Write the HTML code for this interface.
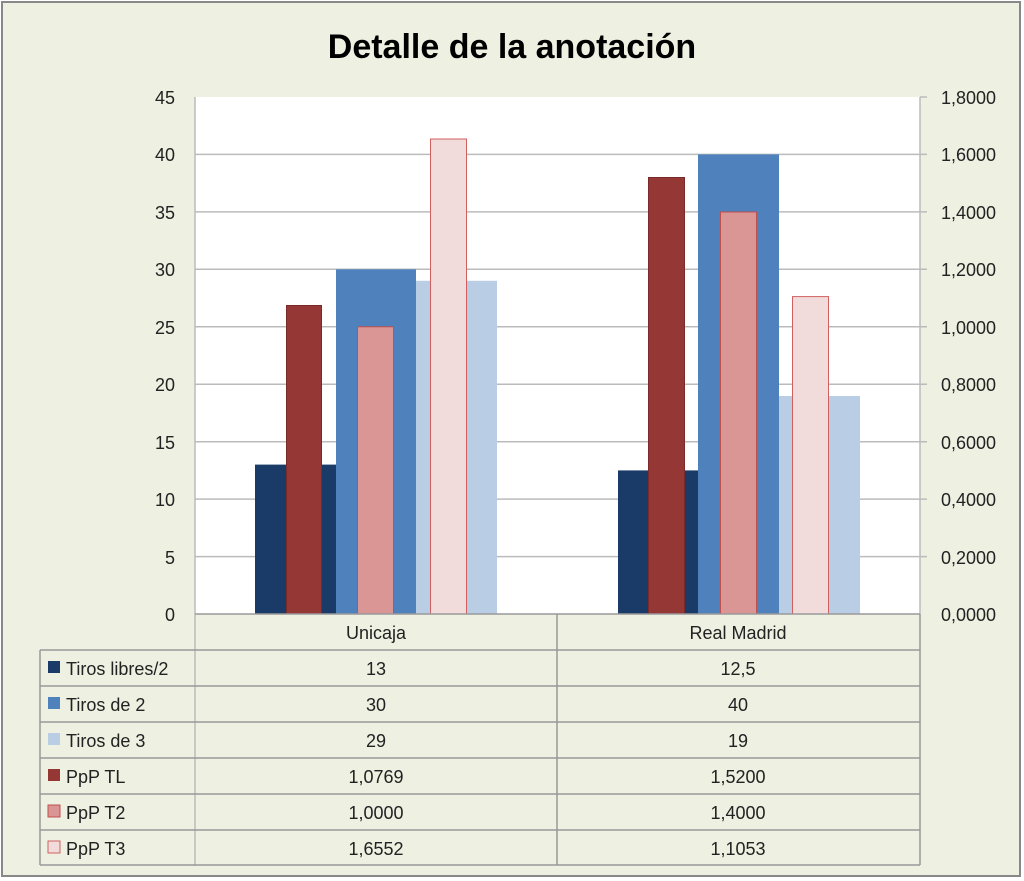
<!DOCTYPE html>
<html><head><meta charset="utf-8"><style>
html,body{margin:0;padding:0;background:#fff}
svg{display:block}
text{font-family:"Liberation Sans",sans-serif;fill:#222}
</style></head><body>
<svg width="1024" height="881" viewBox="0 0 1024 881">
<rect x="2" y="2" width="1018" height="874" fill="#eef1e2" stroke="#888" stroke-width="2"/>
<text x="512" y="58" font-size="34" font-weight="bold" text-anchor="middle" style="fill:#000">Detalle de la anotación</text>
<rect x="195" y="97" width="725" height="517" fill="#fff"/>
<g stroke="#bbb" stroke-width="1.5">
<line x1="195" x2="927" y1="154.4" y2="154.4"/><line x1="195" x2="927" y1="211.9" y2="211.9"/>
<line x1="195" x2="927" y1="269.3" y2="269.3"/><line x1="195" x2="927" y1="326.8" y2="326.8"/>
<line x1="195" x2="927" y1="384.2" y2="384.2"/><line x1="195" x2="927" y1="441.7" y2="441.7"/>
<line x1="195" x2="927" y1="499.1" y2="499.1"/><line x1="195" x2="927" y1="556.6" y2="556.6"/>
<line x1="920" x2="927" y1="97" y2="97"/>
<line x1="920" x2="920" y1="97" y2="614"/>
<line x1="195" x2="195" y1="97" y2="866"/>
</g>
<rect x="255" y="464.6" width="81" height="149.4" fill="#1a3a68"/>
<rect x="336" y="269.3" width="80" height="344.7" fill="#4f81bd"/>
<rect x="416" y="280.8" width="81" height="333.2" fill="#b9cde5"/>
<rect x="618" y="470.4" width="80" height="143.6" fill="#1a3a68"/>
<rect x="698" y="154.4" width="81" height="459.6" fill="#4f81bd"/>
<rect x="779" y="396" width="81" height="218" fill="#b9cde5"/>
<rect x="286.5" y="305.5" width="35" height="308.5" fill="#953735" stroke="#7a2a28" stroke-width="1"/>
<rect x="357.5" y="326.8" width="36" height="287.2" fill="#d99694" stroke="#c0504d" stroke-width="1"/>
<rect x="430.5" y="139" width="36" height="475" fill="#f2dcdb" stroke="#d06060" stroke-width="1"/>
<rect x="648.5" y="177.5" width="36" height="436.5" fill="#953735" stroke="#7a2a28" stroke-width="1"/>
<rect x="720.5" y="212" width="36" height="402" fill="#d99694" stroke="#c0504d" stroke-width="1"/>
<rect x="792.5" y="296.6" width="36" height="317.4" fill="#f2dcdb" stroke="#d06060" stroke-width="1"/>
<g font-size="18" text-anchor="end">
<text x="175" y="104">45</text><text x="175" y="161">40</text><text x="175" y="219">35</text>
<text x="175" y="276">30</text><text x="175" y="334">25</text><text x="175" y="391">20</text>
<text x="175" y="449">15</text><text x="175" y="506">10</text><text x="175" y="564">5</text>
<text x="175" y="621">0</text>
</g>
<g font-size="18" text-anchor="start">
<text x="941" y="104">1,8000</text><text x="941" y="161">1,6000</text><text x="941" y="219">1,4000</text>
<text x="941" y="276">1,2000</text><text x="941" y="334">1,0000</text><text x="941" y="391">0,8000</text>
<text x="941" y="449">0,6000</text><text x="941" y="506">0,4000</text><text x="941" y="564">0,2000</text>
<text x="941" y="621">0,0000</text>
</g>
<g stroke="#999" stroke-width="1.5" fill="none">
<line x1="195" x2="920" y1="614" y2="614"/>
<line x1="40" x2="920" y1="650" y2="650"/>
<line x1="40" x2="920" y1="686" y2="686"/>
<line x1="40" x2="920" y1="722" y2="722"/>
<line x1="40" x2="920" y1="758" y2="758"/>
<line x1="40" x2="920" y1="794" y2="794"/>
<line x1="40" x2="920" y1="830" y2="830"/>
<line x1="40" x2="920" y1="865" y2="865"/>
<line x1="40" x2="40" y1="650" y2="865"/>
<line x1="557" x2="557" y1="614" y2="865"/>
<line x1="920" x2="920" y1="614" y2="865"/>
</g>
<g font-size="18" text-anchor="middle">
<text x="376" y="639">Unicaja</text><text x="738" y="639">Real Madrid</text>
<text x="376" y="675">13</text><text x="738" y="675">12,5</text>
<text x="376" y="711">30</text><text x="738" y="711">40</text>
<text x="376" y="747">29</text><text x="738" y="747">19</text>
<text x="376" y="783">1,0769</text><text x="738" y="783">1,5200</text>
<text x="376" y="819">1,0000</text><text x="738" y="819">1,4000</text>
<text x="376" y="855">1,6552</text><text x="738" y="855">1,1053</text>
</g>
<rect x="48" y="661" width="12" height="12" fill="#1a3a68"/>
<rect x="48" y="697" width="12" height="12" fill="#4f81bd"/>
<rect x="48" y="733" width="12" height="12" fill="#b9cde5"/>
<rect x="48" y="769" width="12" height="12" fill="#953735"/>
<rect x="48" y="805" width="12" height="12" fill="#d99694" stroke="#c0504d"/>
<rect x="48" y="841" width="12" height="12" fill="#f2dcdb" stroke="#d06060"/>
<g font-size="18">
<text x="66" y="675">Tiros libres/2</text>
<text x="66" y="711">Tiros de 2</text>
<text x="66" y="747">Tiros de 3</text>
<text x="66" y="783">PpP TL</text>
<text x="66" y="819">PpP T2</text>
<text x="66" y="855">PpP T3</text>
</g>
</svg>
</body></html>
